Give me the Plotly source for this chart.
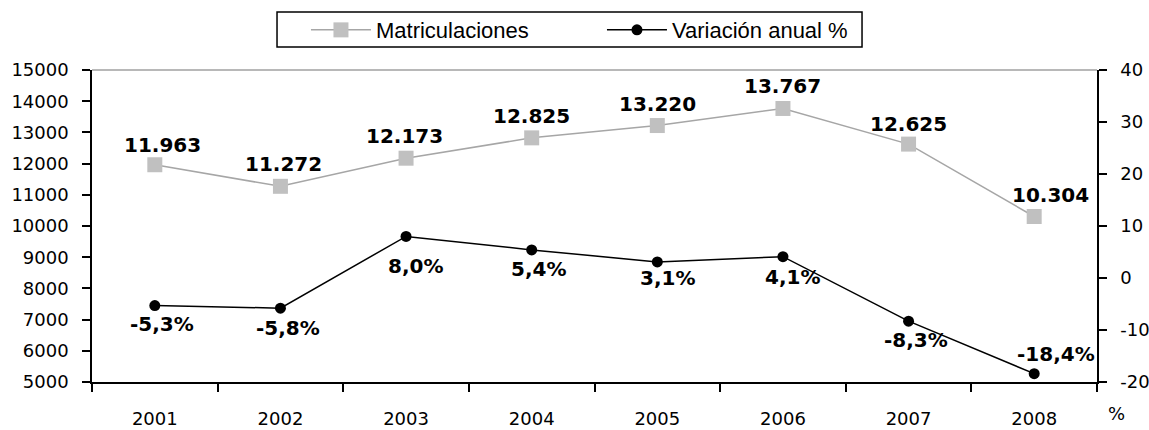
import plotly.graph_objects as go

years = ["2001", "2002", "2003", "2004", "2005", "2006", "2007", "2008"]
matriculaciones = [11963, 11272, 12173, 12825, 13220, 13767, 12625, 10304]
variacion = [-5.3, -5.8, 8.0, 5.4, 3.1, 4.1, -8.3, -18.4]
left_ticks = [5000, 6000, 7000, 8000, 9000, 10000, 11000, 12000, 13000, 14000, 15000]
right_ticks = [-20, -10, 0, 10, 20, 30, 40]
right_ticktext = ["-20", "-10", "0", "10", "20", "30", "40"]

# label placement style (pixel offsets from each point)
mat_dx = [8, 3, -2, 0, 0, 0, 0, 16]
mat_dy = [20, 22, 22, 22, 22, 22, 20, 22]
var_dx = [7, 8, 9, 7, 10, 10, 7, 22]
var_dy = [-18, -20, -30, -19, -16, -20, -19, 20]

FONT_LBL = dict(family="DejaVu Sans", size=20, color="black", weight="bold")
tickfont = dict(family="DejaVu Sans", size=18, color="black")

fig = go.Figure()
fig.add_trace(go.Scatter(
    x=years, y=matriculaciones, name="Matriculaciones",
    mode="lines+markers",
    line=dict(color="#A6A6A6", width=1.5),
    marker=dict(symbol="square", size=15, color="#C0C0C0"),
    xaxis="x", yaxis="y",
))
fig.add_trace(go.Scatter(
    x=years, y=variacion, name="Variación anual %",
    mode="lines+markers",
    line=dict(color="black", width=1.5),
    marker=dict(symbol="circle", size=11, color="black"),
    xaxis="x", yaxis="y2",
))

annotations = []
for i, (yr, v) in enumerate(zip(years, matriculaciones)):
    annotations.append(dict(x=i, y=v, xref="x", yref="y",
                            text=f"{v:,}".replace(",", "."), showarrow=False,
                            xshift=mat_dx[i], yshift=mat_dy[i], font=FONT_LBL))
for i, (yr, v) in enumerate(zip(years, variacion)):
    annotations.append(dict(x=i, y=v, xref="x", yref="y2",
                            text=f"{v:.1f}".replace(".", ",") + "%", showarrow=False,
                            xshift=var_dx[i], yshift=var_dy[i], font=FONT_LBL))
annotations.append(dict(text="%", xref="paper", yref="paper", x=1.0199, y=-0.0994,
                        xanchor="center", yanchor="middle", showarrow=False,
                        font=dict(family="DejaVu Sans", size=18, color="black")))

axis_common = dict(showgrid=False, zeroline=False, tickcolor="black", tickwidth=1.5)
fig.update_layout(
    width=1149, height=430,
    margin=dict(l=92, r=52, t=70, b=48, autoexpand=False),
    paper_bgcolor="white", plot_bgcolor="white",
    showlegend=True,
    legend=dict(orientation="h", x=0.2129, y=1.128, xanchor="left", yanchor="middle",
                borderwidth=0, bgcolor="rgba(0,0,0,0)",
                font=dict(family="Liberation Sans", size=22, color="black"),
                entrywidth=221, itemwidth=60),
    xaxis=dict(type="category", categoryarray=years, range=[-0.5, 7.5], tickson="boundaries",
               ticks="outside", ticklen=8, ticklabelstandoff=20,
               showline=True, linecolor="black", linewidth=1.5,
               tickfont=tickfont, **axis_common),
    yaxis=dict(range=[5000, 15000], tickvals=left_ticks, tickformat="d",
               ticks="outside", ticklen=8, ticklabelstandoff=10,
               showline=True, linecolor="black", linewidth=1.5,
               tickfont=tickfont, **axis_common),
    yaxis2=dict(range=[-20, 40], overlaying="y", side="right", anchor="x",
                tickvals=right_ticks, ticktext=right_ticktext,
                ticks="outside", ticklen=8, ticklabelstandoff=10,
                showline=True, linecolor="black", linewidth=1.5,
                tickfont=tickfont, **axis_common),
    shapes=[
        dict(type="line", xref="paper", yref="paper", x0=0, x1=1, y0=1, y1=1,
             line=dict(color="#A0A0A0", width=1.5)),
        dict(type="rect", xref="paper", yref="paper", x0=0.1841, x1=0.7662,
             y0=1.0737, y1=1.1859, line=dict(color="black", width=1.5)),
    ],
    annotations=annotations,
)
fig.write_html("out.html", config={"displayModeBar": False},
               post_script="document.body.style.margin='0';")
